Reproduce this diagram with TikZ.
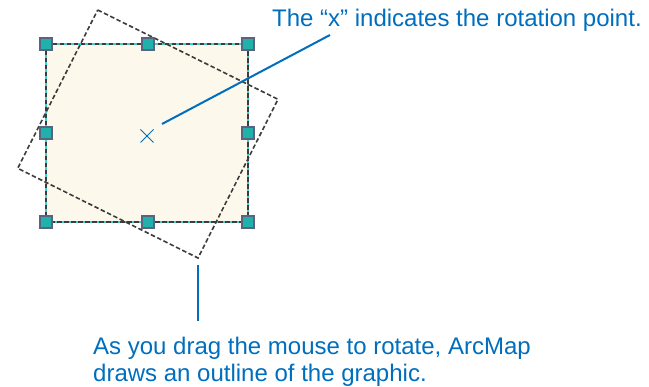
\documentclass[tikz,border=0pt]{standalone}
\usepackage{fontspec}
\setmainfont{Liberation Sans}
\usetikzlibrary{shapes.misc}
\definecolor{callout}{RGB}{0,110,190}
\definecolor{cream}{RGB}{253,248,236}
\definecolor{handle}{RGB}{32,178,170}
\definecolor{handleedge}{RGB}{90,100,130}
\definecolor{outline}{RGB}{60,60,60}
\definecolor{selcyan}{RGB}{64,208,200}
\tikzset{
  handlebox/.style={draw=handleedge, fill=handle, line width=1.4pt, minimum size=12pt, inner sep=0pt},
  dashline/.style={draw=outline, line width=1.6pt, dash pattern=on 4.5pt off 2.5pt},
  leader/.style={draw=callout, line width=2pt},
  calltext/.style={text=callout, font=\fontsize{24}{27}\selectfont, inner sep=0pt}
}
\begin{document}
\begin{tikzpicture}[x=1pt,y=-1pt]
\useasboundingbox (0,0) rectangle (649,387);
% selected graphic
\fill[cream] (46,44) rectangle (248,222);
\draw[selcyan, line width=2pt] (46,44) rectangle (248,222);
\draw[dashline] (46,44) rectangle (248,222);
% rotated outline
\draw[dashline] (97.7,10) -- (278,99.3) -- (198,258) -- (17.7,168.3) -- cycle;
% handles
\foreach \n/\x/\y in {h1/46/44, h2/148/44, h3/248/44, h4/46/133, h5/248/133, h6/46/222, h7/148/222, h8/248/222}
  \node[handlebox] (\n) at (\x,\y) {};
% rotation point
\node[draw=callout, cross out, line width=1pt, minimum size=12pt, inner sep=0pt] (xmark) at (147,136) {};
\coordinate (xl) at (162,124);
% top callout
\node[calltext, anchor=base west] (ttop) at (272,27) {The “x” indicates the rotation point.};
\coordinate (tl) at (330,35);
\draw[leader] (xl) -- (tl);
% bottom callout
\coordinate (bl1) at (198,265);
\coordinate (bl2) at (198,321);
\draw[leader] (bl1) -- (bl2);
\node[calltext, anchor=base west, align=left] (tbot) at (93,382) {As you drag the mouse to rotate, ArcMap\\draws an outline of the graphic.};
\end{tikzpicture}
\end{document}
